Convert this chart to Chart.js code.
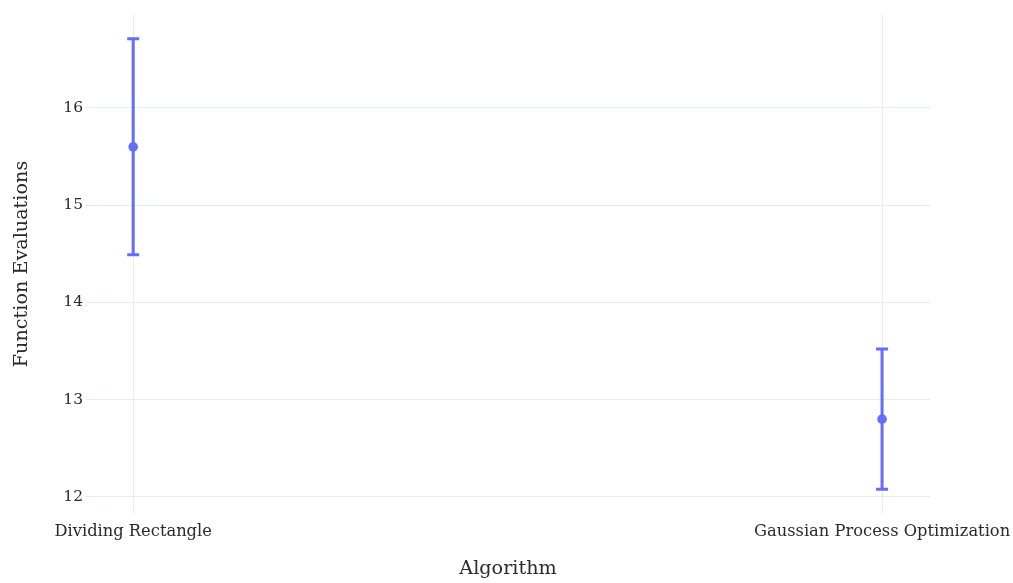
<!DOCTYPE html>
<html>
<head>
<meta charset="utf-8">
<script src="https://cdn.jsdelivr.net/npm/chart.js@4.4.0/dist/chart.umd.min.js"></script>
<style>
  html, body { margin: 0; padding: 0; background: #fff; }
  #wrap { width: 1013px; height: 583px; }
</style>
</head>
<body>
<div id="wrap"><canvas id="evalChart"></canvas></div>
<script>
// mean function evaluations per algorithm, with symmetric error
const algorithms = ["Dividing Rectangle", "Gaussian Process Optimization"];
const meanEvals = [15.6, 12.8];
const errEvals = [1.11, 0.72];
const yTicks = [12, 13, 14, 15, 16];

const blue = "#636efa";
const gridColor = "#e6ebf5";
const textColor = "#2a2a2a";
const serif = "'DejaVu Serif', serif";

// vertical error bars with caps, drawn under the markers
const errorBars = {
  id: "errorBars",
  beforeDatasetsDraw(chart) {
    const ctx = chart.ctx;
    const xs = chart.scales.x, ys = chart.scales.y;
    ctx.save();
    ctx.strokeStyle = blue;
    ctx.lineWidth = 3;
    meanEvals.forEach((m, i) => {
      const x = xs.getPixelForValue(i);
      const top = ys.getPixelForValue(m + errEvals[i]);
      const bot = ys.getPixelForValue(m - errEvals[i]);
      ctx.beginPath();
      ctx.moveTo(x, top); ctx.lineTo(x, bot);
      ctx.moveTo(x - 6, top); ctx.lineTo(x + 6, top);
      ctx.moveTo(x - 6, bot); ctx.lineTo(x + 6, bot);
      ctx.stroke();
    });
    ctx.restore();
  }
};

new Chart(document.getElementById("evalChart"), {
  type: "scatter",
  data: {
    datasets: [{
      data: meanEvals.map((v, i) => ({ x: i, y: v })),
      backgroundColor: blue,
      borderColor: blue,
      pointRadius: 4.8,
      pointHoverRadius: 4.8,
      borderWidth: 0
    }]
  },
  plugins: [errorBars],
  options: {
    responsive: true,
    maintainAspectRatio: false,
    animation: false,
    layout: { padding: { top: 14, right: 83, left: 0, bottom: 0 } },
    plugins: { legend: { display: false }, tooltip: { enabled: false } },
    scales: {
      x: {
        type: "linear",
        min: -0.063,
        max: 1.064,
        afterBuildTicks(scale) { scale.ticks = [{ value: 0 }, { value: 1 }]; },
        afterFit(scale) {
          scale.height = 69;
          scale.paddingLeft = 0;
          scale.paddingRight = 0;
        },
        grid: { color: gridColor, lineWidth: 1, drawTicks: false },
        border: { display: false },
        ticks: {
          padding: 8,
          color: textColor,
          maxRotation: 0,
          font: { family: serif, size: 16.3 },
          callback: (v) => algorithms[v]
        },
        title: {
          display: true,
          text: "Algorithm",
          color: textColor,
          padding: { top: 0, bottom: 2 },
          font: { family: serif, size: 19.2 }
        }
      },
      y: {
        min: 11.825,
        max: 16.965,
        afterBuildTicks(scale) { scale.ticks = yTicks.map(v => ({ value: v })); },
        afterFit(scale) { scale.width = 86; },
        grid: { color: gridColor, lineWidth: 1, drawTicks: false },
        border: { display: false },
        ticks: {
          padding: 3,
          color: textColor,
          font: { family: serif, size: 15.5 }
        },
        title: {
          display: true,
          text: "Function Evaluations",
          color: textColor,
          padding: { top: 10, bottom: 0 },
          font: { family: serif, size: 19.2 }
        }
      }
    }
  }
});
</script>
</body>
</html>
